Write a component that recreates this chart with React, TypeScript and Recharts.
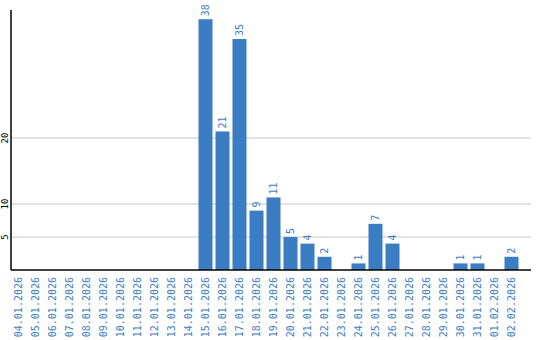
import React from "react";
import { Bar, BarChart, CartesianGrid, LabelList, XAxis, YAxis } from "recharts";

if (typeof document !== "undefined") document.body.style.margin = "0";

const DATES = [
  "04.01.2026", "05.01.2026", "06.01.2026", "07.01.2026", "08.01.2026",
  "09.01.2026", "10.01.2026", "11.01.2026", "12.01.2026", "13.01.2026",
  "14.01.2026", "15.01.2026", "16.01.2026", "17.01.2026", "18.01.2026",
  "19.01.2026", "20.01.2026", "21.01.2026", "22.01.2026", "23.01.2026",
  "24.01.2026", "25.01.2026", "26.01.2026", "27.01.2026", "28.01.2026",
  "29.01.2026", "30.01.2026", "31.01.2026", "01.02.2026", "02.02.2026",
];
const COUNTS = [
  0, 0, 0, 0, 0, 0, 0, 0, 0, 0, 0, 38, 21, 35, 9, 11, 5, 4, 2, 0,
  1, 7, 4, 0, 0, 0, 1, 1, 0, 2,
];
const Y_TICKS = [5, 10, 20];

const BLUE = "#3a7dc3";
const FONT = "'DejaVu Sans Mono', monospace";
const SHIFT = -1.5;

const data = DATES.map((d, i) => ({ date: d, count: COUNTS[i] }));

function DateTick({ x, payload }: any) {
  const cx = x + SHIFT;
  const ty = 277;
  return (
    <text
      x={cx}
      y={ty}
      transform={`rotate(-90, ${cx}, ${ty})`}
      textAnchor="end"
      dominantBaseline="central"
      fill={BLUE}
      fontSize={10}
      fontFamily={FONT}
    >
      {payload.value}
    </text>
  );
}

function CountTick({ y, payload }: any) {
  return (
    <text
      x={5}
      y={y}
      transform={`rotate(-90, 5, ${y})`}
      textAnchor="middle"
      dominantBaseline="central"
      fill="#000"
      fontSize={9}
      fontFamily={FONT}
    >
      {payload.value}
    </text>
  );
}

function BarShape({ x, y, width, height }: any) {
  if (!height) return null;
  return <rect x={x + SHIFT} y={y} width={width} height={height} fill={BLUE} />;
}

function ValueLabel({ x, y, width, value }: any) {
  if (!value) return null;
  const cx = x + width / 2 + SHIFT;
  const ty = y - 3;
  return (
    <text
      x={cx}
      y={ty}
      transform={`rotate(-90, ${cx}, ${ty})`}
      textAnchor="start"
      dominantBaseline="central"
      fill={BLUE}
      fontSize={10}
      fontFamily={FONT}
    >
      {value}
    </text>
  );
}

export default function App() {
  return (
    <BarChart
      width={540}
      height={340}
      data={data}
      margin={{ top: 10, right: 9, bottom: 0, left: 0 }}
      barSize={14}
    >
      <CartesianGrid vertical={false} stroke="#c8c8c8" horizontalValues={Y_TICKS} />
      <XAxis
        dataKey="date"
        interval={0}
        height={70}
        padding={{ left: 0, right: 10 }}
        tickLine={false}
        axisLine={{ stroke: "#000", strokeWidth: 1.5 }}
        tick={<DateTick />}
      />
      <YAxis
        width={11}
        domain={[0, 39.4]}
        ticks={Y_TICKS}
        tickLine={false}
        axisLine={{ stroke: "#000", strokeWidth: 1.5 }}
        tick={<CountTick />}
      />
      <Bar dataKey="count" fill={BLUE} shape={<BarShape />} isAnimationActive={false}>
        <LabelList dataKey="count" content={<ValueLabel />} />
      </Bar>
    </BarChart>
  );
}
